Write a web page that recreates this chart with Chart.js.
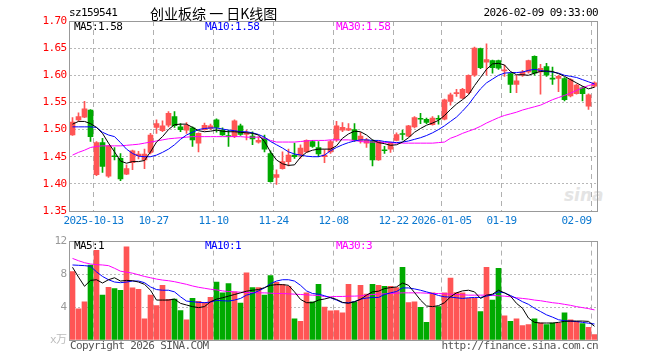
<!DOCTYPE html>
<html>
<head>
<meta charset="utf-8">
<script src="https://cdn.jsdelivr.net/npm/chart.js@4.4.1/dist/chart.umd.min.js"></script>
<style>
html, body { margin: 0; padding: 0; background: #fff; }
#wrap { position: relative; width: 660px; height: 360px; overflow: hidden; }
canvas { position: absolute; left: 0; }
.t { position: absolute; font: 11px "DejaVu Sans Mono", monospace; letter-spacing: -0.6px; white-space: nowrap; line-height: 12px; }
</style>
</head>
<body>
<div id="wrap">
  <div class="t" style="left:564px;top:185px;font:italic bold 17px 'DejaVu Sans',sans-serif;letter-spacing:0;color:#e4e4e4">sina</div>
  <canvas id="k" width="660" height="232" style="top:0"></canvas>
  <canvas id="v" width="660" height="128" style="top:232px"></canvas>
  <div class="t" style="left:69px;top:7px">sz159541</div>
  <div class="t" style="left:150px;top:5px;font:14px 'Noto Sans CJK SC',sans-serif;letter-spacing:0;line-height:16px">创业板综 一 日K线图</div>
  <div class="t" style="right:62px;top:7px">2026-02-09 09:33:00</div>
  <div class="t" id="kma5" style="left:74px;top:21px;color:#000"></div>
  <div class="t" id="kma10" style="left:205px;top:21px;color:#00f"></div>
  <div class="t" id="kma30" style="left:336px;top:21px;color:#f0f"></div>
  <div class="t" id="vma5" style="left:74px;top:240px;color:#000"></div>
  <div class="t" id="vma10" style="left:205px;top:240px;color:#00f"></div>
  <div class="t" id="vma30" style="left:336px;top:240px;color:#f0f"></div>
  <div class="t" style="left:70px;top:340px;color:#555">Copyright 2026 SINA.COM</div>
  <div class="t" style="right:62px;top:340px;color:#555">http://finance.sina.com.cn</div>
</div>
<script>
// trading days shown (MM-DD)
const dates = [
  '09-29','09-30','10-09','10-10',
  '10-13','10-14','10-15','10-16','10-17',
  '10-20','10-21','10-22','10-23','10-24',
  '10-27','10-28','10-29','10-30','10-31',
  '11-03','11-04','11-05','11-06','11-07',
  '11-10','11-11','11-12','11-13','11-14',
  '11-17','11-18','11-19','11-20','11-21',
  '11-24','11-25','11-26','11-27','11-28',
  '12-01','12-02','12-03','12-04','12-05',
  '12-08','12-09','12-10','12-11','12-12',
  '12-15','12-16','12-17','12-18','12-19',
  '12-22','12-23','12-24','12-25','12-26',
  '12-29','12-30','12-31',
  '01-05','01-06','01-07','01-08','01-09',
  '01-12','01-13','01-14','01-15','01-16',
  '01-19','01-20','01-21','01-22','01-23',
  '01-26','01-27','01-28','01-29','01-30',
  '02-02','02-03','02-04','02-05','02-06',
  '02-09'
];
const tickDates = ['10-13','10-27','11-10','11-24','12-08','12-22','01-05','01-19','02-09'];
const tickText  = ['2025-10-13','10-27','11-10','11-24','12-08','12-22','2026-01-05','01-19','02-09     '];

const open = [
  1.490,1.518,1.523,1.536,1.417,1.476,1.414,1.451,1.447,1.418,
  1.439,1.452,1.444,1.458,1.504,1.498,1.508,1.524,1.505,1.499,
  1.503,1.475,1.500,1.502,1.518,1.499,1.488,1.487,1.507,1.491,
  1.488,1.477,1.484,1.456,1.412,1.428,1.441,1.453,1.453,1.459,
  1.478,1.467,1.450,1.459,1.481,1.499,1.499,1.500,1.480,1.475,
  1.479,1.444,1.462,1.464,1.480,1.492,1.488,1.505,1.520,1.519,
  1.509,1.520,1.519,1.552,1.566,1.558,1.568,1.600,1.649,1.624,
  1.627,1.627,1.608,1.603,1.583,1.600,1.606,1.635,1.606,1.616,
  1.594,1.594,1.594,1.562,1.566,1.577,1.543,1.580
];
const high = [
  1.522,1.531,1.552,1.537,1.478,1.484,1.471,1.467,1.456,1.435,
  1.462,1.460,1.464,1.493,1.518,1.516,1.533,1.533,1.511,1.513,
  1.505,1.494,1.512,1.510,1.520,1.503,1.499,1.518,1.510,1.499,
  1.496,1.487,1.490,1.461,1.426,1.459,1.464,1.475,1.472,1.481,
  1.480,1.478,1.463,1.480,1.515,1.513,1.511,1.511,1.495,1.484,
  1.481,1.479,1.469,1.477,1.494,1.499,1.508,1.524,1.530,1.521,
  1.524,1.526,1.556,1.567,1.574,1.576,1.601,1.652,1.650,1.658,
  1.628,1.628,1.619,1.604,1.600,1.609,1.628,1.636,1.620,1.622,
  1.615,1.600,1.596,1.594,1.584,1.579,1.566,1.588
];
const low = [
  1.489,1.515,1.522,1.478,1.415,1.421,1.412,1.444,1.406,1.417,
  1.426,1.446,1.428,1.455,1.493,1.496,1.505,1.504,1.496,1.493,
  1.469,1.459,1.499,1.500,1.495,1.489,1.469,1.485,1.489,1.481,
  1.472,1.475,1.459,1.403,1.399,1.427,1.433,1.447,1.447,1.458,
  1.467,1.450,1.439,1.456,1.478,1.496,1.498,1.478,1.475,1.467,
  1.433,1.443,1.456,1.458,1.479,1.481,1.487,1.503,1.511,1.511,
  1.508,1.510,1.518,1.545,1.561,1.557,1.566,1.598,1.612,1.600,
  1.604,1.611,1.598,1.568,1.568,1.598,1.604,1.600,1.565,1.598,
  1.583,1.570,1.553,1.560,1.565,1.553,1.537,1.578
];
const close = [
  1.514,1.524,1.538,1.487,1.476,1.432,1.470,1.450,1.409,1.428,
  1.461,1.455,1.455,1.490,1.511,1.507,1.530,1.507,1.500,1.508,
  1.481,1.493,1.508,1.507,1.504,1.490,1.487,1.516,1.491,1.494,
  1.483,1.480,1.464,1.404,1.417,1.441,1.453,1.450,1.466,1.480,
  1.469,1.455,1.453,1.478,1.507,1.504,1.502,1.481,1.488,1.481,
  1.444,1.478,1.461,1.475,1.491,1.491,1.507,1.522,1.519,1.513,
  1.521,1.519,1.555,1.564,1.568,1.574,1.600,1.650,1.614,1.629,
  1.614,1.613,1.609,1.583,1.590,1.606,1.627,1.604,1.613,1.600,
  1.593,1.598,1.555,1.592,1.582,1.566,1.564,1.586
];
const ma5 = [
  1.510,1.515,1.515,1.511,1.504,1.493,1.475,1.459,1.442,1.438,
  1.441,1.441,1.443,1.459,1.477,1.487,1.500,1.509,1.510,1.510,
  1.504,1.498,1.496,1.497,1.499,1.497,1.496,1.496,1.495,1.494,
  1.493,1.490,1.478,1.459,1.444,1.437,1.434,1.435,1.449,1.458,
  1.462,1.464,1.464,1.464,1.470,1.484,1.492,1.497,1.496,1.490,
  1.481,1.476,1.474,1.471,1.472,1.477,1.485,1.495,1.502,1.508,
  1.512,1.517,1.526,1.537,1.547,1.555,1.564,1.581,1.596,1.611,
  1.621,1.622,1.619,1.607,1.601,1.601,1.600,1.604,1.607,1.608,
  1.607,1.603,1.598,1.592,1.586,1.580,1.575,1.578
];
const ma10 = [
  1.505,1.505,1.505,1.505,1.504,1.495,1.490,1.487,1.476,1.464,
  1.456,1.451,1.450,1.450,1.453,1.458,1.464,1.472,1.482,1.490,
  1.495,1.500,1.502,1.503,1.503,1.501,1.499,1.498,1.496,1.496,
  1.494,1.491,1.486,1.478,1.472,1.466,1.459,1.455,1.453,1.451,
  1.450,1.450,1.453,1.461,1.467,1.472,1.476,1.479,1.481,1.481,
  1.480,1.480,1.478,1.477,1.476,1.477,1.479,1.482,1.485,1.489,
  1.494,1.500,1.507,1.515,1.523,1.534,1.546,1.561,1.575,1.586,
  1.593,1.600,1.604,1.605,1.605,1.606,1.609,1.611,1.609,1.607,
  1.606,1.604,1.600,1.598,1.596,1.592,1.588,1.584
];
const ma30 = [
  1.453,1.458,1.462,1.467,1.469,1.470,1.470,1.470,1.470,1.471,
  1.472,1.473,1.475,1.477,1.479,1.481,1.483,1.484,1.485,1.486,
  1.487,1.487,1.487,1.487,1.487,1.487,1.487,1.487,1.487,1.486,
  1.486,1.486,1.484,1.480,1.477,1.477,1.477,1.477,1.478,1.479,
  1.480,1.480,1.480,1.481,1.481,1.481,1.481,1.480,1.478,1.477,
  1.477,1.477,1.476,1.476,1.475,1.475,1.475,1.475,1.475,1.475,
  1.475,1.476,1.477,1.484,1.488,1.493,1.497,1.501,1.506,1.512,
  1.517,1.522,1.526,1.529,1.532,1.536,1.539,1.542,1.545,1.550,
  1.555,1.559,1.563,1.567,1.572,1.577,1.581,1.584
];

// volume, unit 万
const volume = [
  8.35,3.79,4.67,9.15,10.95,5.47,6.43,6.27,6.07,11.35,
  6.35,6.19,2.59,5.47,4.19,6.67,4.95,4.99,3.59,2.47,
  5.07,4.71,4.59,5.19,7.07,5.75,6.87,5.87,4.51,8.19,
  6.39,6.39,5.47,7.87,7.03,6.75,6.55,2.59,2.27,5.75,
  4.67,6.79,4.00,3.55,3.59,3.31,6.79,4.67,6.67,5.59,
  6.79,6.67,6.55,6.55,6.39,8.87,4.55,4.67,3.99,2.15,
  5.75,4.07,5.75,7.55,5.79,5.75,5.07,5.07,3.47,8.87,
  4.87,8.75,2.95,2.27,2.59,1.75,1.87,2.59,2.07,1.87,
  2.07,2.07,3.31,2.47,2.27,1.99,1.55,0.67
];
const vma5 = [
  8.87,7.67,6.55,7.27,7.35,6.95,7.35,7.59,7.19,7.27,
  7.23,7.07,6.79,6.07,4.87,4.87,4.87,4.99,4.47,4.27,
  4.07,3.95,4.07,4.67,4.99,5.15,5.35,5.55,5.75,5.95,
  6.07,6.15,6.39,6.67,6.75,6.75,6.67,5.87,4.95,4.55,
  4.55,4.87,5.00,5.19,4.95,4.59,4.47,4.67,4.95,5.47,
  5.87,5.95,6.27,6.39,6.47,6.95,6.67,5.79,4.87,4.15,
  4.07,4.19,4.55,5.27,5.75,5.99,6.07,5.87,5.07,5.47,
  5.59,6.07,5.75,5.35,4.47,3.87,2.67,2.15,2.07,2.07,
  2.07,2.15,2.27,2.31,2.31,2.31,2.27,1.67
];
const vma10 = [
  9.15,9.11,9.07,8.99,8.31,7.75,7.35,7.07,6.99,7.07,
  7.19,7.19,6.99,6.47,6.15,6.07,6.07,5.87,5.27,4.75,
  4.67,4.59,4.55,4.63,4.83,4.79,4.75,4.87,5.07,5.47,
  5.67,5.99,6.35,6.87,7.19,7.35,7.35,7.19,6.67,5.99,
  5.67,5.59,5.40,5.15,4.87,4.55,4.55,4.67,4.99,5.11,
  5.19,5.19,5.55,5.75,5.91,6.35,6.35,6.23,6.07,5.87,
  5.67,5.43,5.27,5.23,5.15,5.07,5.15,5.19,5.19,5.35,
  5.51,5.87,5.75,5.43,5.07,4.67,4.35,3.87,3.47,3.07,
  2.79,2.47,2.35,2.30,2.25,2.15,2.05,1.95
];
const vma30 = [
  9.95,9.67,9.43,9.27,9.19,9.15,9.07,8.75,8.39,8.27,
  8.15,7.95,7.75,7.59,7.43,7.31,7.23,7.11,6.95,6.79,
  6.59,6.43,6.31,6.19,6.11,5.99,5.91,5.87,5.83,5.79,
  5.79,5.75,5.75,5.71,5.67,5.67,5.63,5.59,5.55,5.51,
  5.47,5.43,5.30,5.27,5.31,5.31,5.35,5.35,5.39,5.47,
  5.55,5.59,5.63,5.67,5.71,5.75,5.75,5.75,5.75,5.71,
  5.67,5.67,5.63,5.59,5.55,5.51,5.47,5.47,5.47,5.47,
  5.43,5.39,5.35,5.27,5.15,5.07,4.99,4.87,4.79,4.67,
  4.55,4.47,4.35,4.23,4.07,3.95,3.83,3.67
];

const RED = '#ff5555';
const GREEN = '#00aa00';
const MONO = '"DejaVu Sans Mono", "Noto Sans CJK SC", monospace';

const candleColours = close.map((c, i) => c >= open[i] ? RED : GREEN);
const bodies = open.map((o, i) => [o, close[i]]);
const wicks = low.map((l, i) => [l, high[i]]);
const volBars = volume.map(v => [0, v]);

const last = dates.length - 1;
document.getElementById('kma5').textContent = 'MA5:' + ma5[last].toFixed(2);
document.getElementById('kma10').textContent = 'MA10:' + ma10[last].toFixed(2);
document.getElementById('kma30').textContent = 'MA30:' + ma30[last].toFixed(2);
document.getElementById('vma5').textContent = 'MA5:' + Math.floor(vma5[last]);
document.getElementById('vma10').textContent = 'MA10:' + Math.floor(vma10[last]);
document.getElementById('vma30').textContent = 'MA30:' + Math.floor(vma30[last]);

// gray frame round the plot area + dashed lines at the labelled dates
const framePlugin = {
    id: 'frame',
    beforeDraw(chart) {
        chart.ctx.letterSpacing = '-0.6px';
    },
    beforeDatasetsDraw(chart) {
        const { ctx, chartArea: a, scales: { x } } = chart;
        const half = (x.getPixelForValue(1) - x.getPixelForValue(0)) / 2;
        ctx.save();
        ctx.strokeStyle = '#b0b0b0';
        ctx.lineWidth = 1;
        ctx.setLineDash([5, 4]);
        tickDates.forEach(d => {
            const px = Math.floor(x.getPixelForValue(dates.indexOf(d)) - half) + 0.5;
            ctx.beginPath();
            ctx.moveTo(px, a.top);
            ctx.lineTo(px, a.bottom);
            ctx.stroke();
        });
        ctx.restore();
    },
    afterDraw(chart) {
        const { ctx, chartArea: a } = chart;
        const l = Math.floor(a.left), t = Math.floor(a.top);
        ctx.save();
        ctx.setLineDash([]);
        ctx.strokeStyle = '#999';
        ctx.lineWidth = 1;
        ctx.strokeRect(l + 0.5, t + 0.5, Math.floor(a.right) - l, Math.floor(a.bottom) - t);
        ctx.restore();
    }
};

function maLine(data, colour) {
    return {
        type: 'line',
        data: data,
        borderColor: colour,
        borderWidth: 1,
        pointRadius: 0,
        tension: 0,
        fill: false,
        order: 0,
    };
}

new Chart(document.getElementById('k'), {
    type: 'bar',
    data: {
        labels: dates,
        datasets: [
            maLine(ma5, '#000000'),
            maLine(ma10, '#0000ff'),
            maLine(ma30, '#ff00ff'),
            { data: bodies, backgroundColor: candleColours, barThickness: 5, minBarLength: 1, grouped: false, order: 1 },
            { data: wicks, backgroundColor: candleColours, barThickness: 1, grouped: false, order: 2 },
        ],
    },
    options: {
        responsive: false,
        animation: false,
        layout: { autoPadding: false, padding: { left: 0, right: 62.5, top: 21, bottom: 0 } },
        plugins: { legend: { display: false }, tooltip: { enabled: false } },
        scales: {
            x: {
                offset: true,
                grid: { display: false, drawTicks: false },
                border: { display: false },
                ticks: {
                    autoSkip: false,
                    maxRotation: 0,
                    minRotation: 0,
                    padding: 4,
                    labelOffset: -3,
                    color: '#0b78d0',
                    font: { family: MONO, size: 11 },
                    callback: (value, index) => {
                        const k = tickDates.indexOf(dates[index]);
                        return k >= 0 ? tickText[k] : '';
                    },
                },
                afterFit: scale => { scale.height = 21; },
            },
            y: {
                min: 1.35,
                max: 1.70,
                grid: { drawTicks: false, color: '#b8b8b8' },
                border: { display: false, dash: [2, 2] },
                ticks: {
                    stepSize: 0.05,
                    padding: 3,
                    color: '#ff0000',
                    font: { family: MONO, size: 11 },
                    callback: v => v.toFixed(2),
                },
                afterFit: scale => { scale.width = 69.5; },
            },
        },
    },
    plugins: [framePlugin],
});

new Chart(document.getElementById('v'), {
    type: 'bar',
    data: {
        labels: dates,
        datasets: [
            maLine(vma5, '#000000'),
            maLine(vma10, '#0000ff'),
            maLine(vma30, '#ff00ff'),
            { data: volBars, backgroundColor: candleColours, barThickness: 5, grouped: false, order: 1 },
        ],
    },
    options: {
        responsive: false,
        animation: false,
        layout: { autoPadding: false, padding: { left: 0, right: 62.5, top: 9, bottom: 0 } },
        plugins: { legend: { display: false }, tooltip: { enabled: false } },
        scales: {
            x: {
                offset: true,
                grid: { display: false, drawTicks: false },
                border: { display: false },
                ticks: { display: false },
                afterFit: scale => { scale.height = 20; },
            },
            y: {
                min: 0,
                max: 12,
                grid: { drawTicks: false, color: '#b8b8b8' },
                border: { display: false, dash: [2, 2] },
                ticks: {
                    stepSize: 4,
                    padding: 3,
                    color: ctx => ctx.tick.value === 0 ? '#bbbbbb' : '#999999',
                    font: { family: MONO, size: 11 },
                    callback: v => v === 0 ? 'x万' : v,
                },
                afterFit: scale => { scale.width = 69.5; },
            },
        },
    },
    plugins: [framePlugin],
});
</script>
</body>
</html>
